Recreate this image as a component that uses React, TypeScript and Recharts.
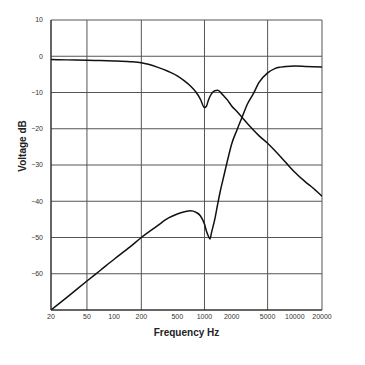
import { LineChart, Line, XAxis, YAxis, CartesianGrid, Label } from 'recharts'

const frequencies = [
  20, 30, 50, 70, 100, 150, 200, 300, 400, 500, 600, 700, 800, 900, 1000, 1050,
  1100, 1150, 1200, 1300, 1400, 1500, 1600, 1800, 2000, 2300, 2600, 3000, 3500,
  4000, 5000, 6000, 7000, 8000, 10000, 13000, 16000, 20000,
]

const lowPass = [
  -0.9, -1.0, -1.1, -1.2, -1.3, -1.5, -1.8, -3.0, -4.2, -5.4, -6.8, -8.2, -9.8,
  -11.8, -14.2, -13.8, -12.3, -11.1, -10.3, -9.5, -9.4, -9.9, -10.7, -12.1,
  -13.7, -15.3, -16.8, -18.6, -20.4, -21.9, -24.0, -26.0, -27.8, -29.4, -32.0,
  -34.6, -36.4, -38.6,
]

const highPass = [
  -70, -66.5, -62.0, -59.1, -56.0, -52.6, -50, -46.8, -44.6, -43.5, -42.9,
  -42.6, -43.0, -44.0, -46.3, -48.2, -49.5, -50.4, -48.5, -45.0, -40.8, -37.1,
  -34.1, -28.7, -24.2, -20.2, -16.9, -13.1, -10.2, -7.3, -4.6, -3.4, -3.0, -2.8,
  -2.7, -2.8, -2.9, -3.0,
]

const xTicks = [20, 50, 100, 200, 500, 1000, 2000, 5000, 10000, 20000]
const yTicks = [-70, -60, -50, -40, -30, -20, -10, 0, 10]

const data = frequencies.map((f, i) => ({ f, low: lowPass[i], high: highPass[i] }))

const font = 'Liberation Sans, Arial, sans-serif'
const tickStyle = { fontSize: 7, fill: '#333', fontFamily: font }

export default function App() {
  return (
    <div style={{ position: 'absolute', left: 0, top: 0, width: 365, height: 365, background: '#fff' }}>
      <LineChart
        width={365}
        height={365}
        data={data}
        margin={{ top: 20, right: 43, bottom: 25, left: 0 }}
      >
        <CartesianGrid stroke="#555" strokeWidth={1} />
        <XAxis
          dataKey="f"
          type="number"
          scale="log"
          domain={[20, 20000]}
          ticks={xTicks}
          allowDataOverflow
          height={30}
          tick={tickStyle}
          tickLine={false}
          tickSize={2}
          axisLine={{ stroke: '#222' }}
        >
          <Label
            value="Frequency Hz"
            position="insideBottom"
            offset={4}
            style={{ fontSize: 10, fontWeight: 'bold', fill: '#222', fontFamily: font }}
          />
        </XAxis>
        <YAxis
          type="number"
          domain={[-70, 10]}
          ticks={yTicks}
          width={51}
          allowDataOverflow
          tick={tickStyle}
          tickLine={false}
          tickSize={6}
          tickFormatter={(v: number) => (v === -70 ? '' : v < 0 ? '\u2212' + Math.abs(v) : String(v))}
          axisLine={{ stroke: '#222' }}
        >
          <Label
            content={() => (
              <text
                x={22}
                y={146}
                transform="rotate(-90 22 146)"
                textAnchor="middle"
                dominantBaseline="central"
                style={{ fontSize: 10, fontWeight: 'bold', fill: '#222', fontFamily: font }}
              >
                Voltage dB
              </text>
            )}
          />
        </YAxis>
        <Line
          type="monotone"
          dataKey="low"
          stroke="#111"
          strokeWidth={1.5}
          dot={false}
          isAnimationActive={false}
        />
        <Line
          type="monotone"
          dataKey="high"
          stroke="#111"
          strokeWidth={1.5}
          dot={false}
          isAnimationActive={false}
        />
      </LineChart>
    </div>
  )
}
